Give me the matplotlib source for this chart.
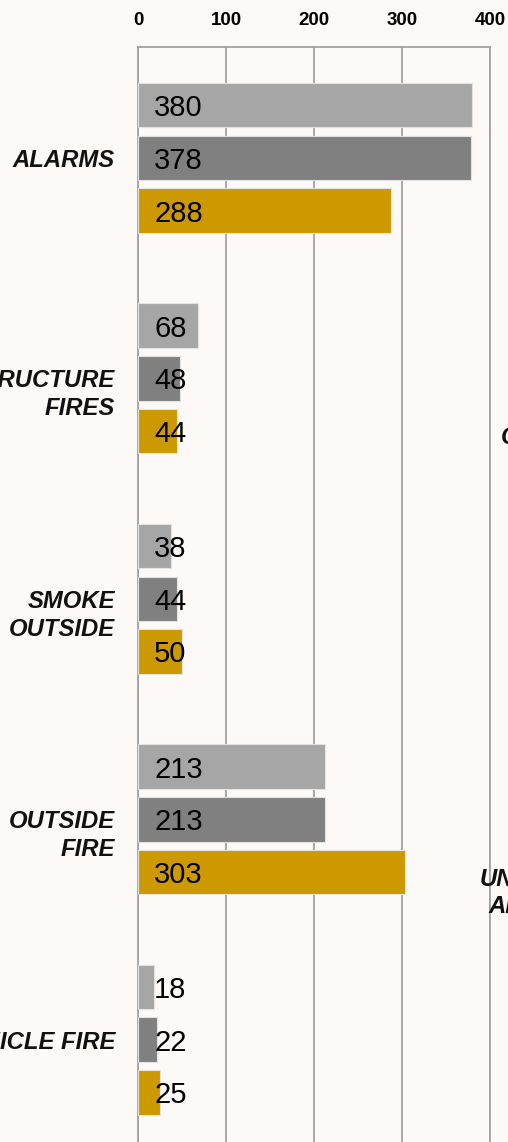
import numpy as np
import matplotlib
matplotlib.use("Agg")
import matplotlib.pyplot as plt
import matplotlib.transforms as mtransforms

# dados do grafico
categorias = ["ALARMS", "STRUCTURE\nFIRES", "SMOKE\nOUTSIDE", "OUTSIDE\nFIRE", "VEHICLE FIRE"]
serie_1 = [380, 68, 38, 213, 18]
serie_2 = [378, 48, 44, 213, 22]
serie_3 = [288, 44, 50, 303, 25]
ticks_x = [0, 100, 200, 300, 400]

cores = ["#a6a6a6", "#808080", "#cc9900"]
fundo = "#fcf9f6"
cinza_grade = "#a3a3a3"

plt.rcParams["font.family"] = ["Liberation Sans", "DejaVu Sans"]

W, H = 508, 1142
fig = plt.figure(figsize=(W / 100, H / 100), dpi=100, facecolor=fundo)
ax = fig.add_axes([138 / W, -30 / H, 352 / W, 1125 / H])
ax.set_facecolor(fundo)

y = np.arange(len(categorias))
passo = 0.239
altura = 0.202

trans = mtransforms.blended_transform_factory(ax.transAxes, ax.transData)

for i, (serie, cor) in enumerate(zip([serie_1, serie_2, serie_3], cores)):
    pos = y + (i - 1) * passo
    ax.barh(pos, serie, height=altura, color=cor, edgecolor="#e2e2e2",
            linewidth=0.8, zorder=3)
    for p, v in zip(pos, serie):
        ax.text(16 / 352, p, str(v), transform=trans, ha="left",
                va="center_baseline", fontsize=21, color="#000000", zorder=4)

# rotulos das categorias: primeira linha centrada no grupo
for yc, cat in zip(y, categorias):
    for k, linha in enumerate(cat.split("\n")):
        t = mtransforms.offset_copy(trans, fig=fig, x=0, y=-28 * k, units="dots")
        ax.text(-23 / 352, yc, linha, transform=t, ha="right",
                va="center_baseline", fontsize=17.2, fontweight="bold",
                fontstyle="italic", color="#111111", clip_on=False)

ax.set_xlim(0, 400)
ax.set_ylim(4.6, -0.503)
ax.xaxis.tick_top()
ax.set_xticks(ticks_x)
ax.set_xticklabels([str(t) for t in ticks_x], fontsize=13.5, fontweight="bold")
ax.tick_params(axis="x", length=0, pad=13)
ax.set_yticks([])

ax.grid(axis="x", color=cinza_grade, linewidth=1.3, zorder=0)
for lado in ["left", "top", "right"]:
    ax.spines[lado].set_color(cinza_grade)
    ax.spines[lado].set_linewidth(1.3)
ax.spines["bottom"].set_visible(False)

# rotulos cortados do painel vizinho
fig.text(501 / W, 1 - 435 / H, "CALLS", fontsize=17.2, fontweight="bold",
         fontstyle="italic", color="#111111", va="center_baseline")
fig.text(480 / W, 1 - 877 / H, "UNKNOWN", fontsize=17.2, fontweight="bold",
         fontstyle="italic", color="#111111", va="center_baseline")
fig.text(488 / W, 1 - 904 / H, "ALARM", fontsize=17.2, fontweight="bold",
         fontstyle="italic", color="#111111", va="center_baseline")

fig.savefig("out.png", dpi=100, facecolor=fundo)
